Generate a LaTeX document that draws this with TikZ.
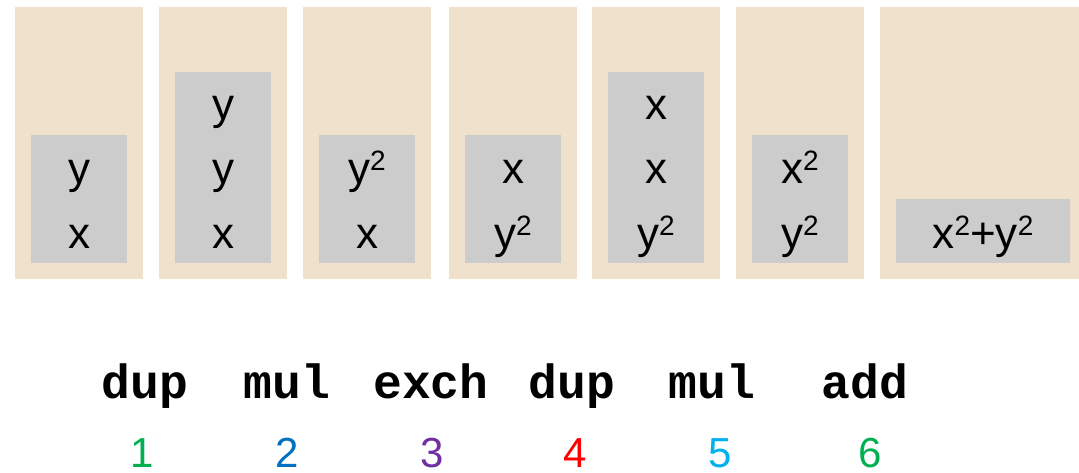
\documentclass[tikz,border=0pt]{standalone}
\usepackage{fontspec}
\setmainfont{Liberation Sans}
\newfontfamily\codefont{Liberation Mono}
\definecolor{beige}{HTML}{F0E1CC}
\definecolor{stackgrey}{HTML}{CCCCCC}
\definecolor{cgreen}{HTML}{00B050}
\definecolor{cblue}{HTML}{0070C0}
\definecolor{cpurple}{HTML}{7030A0}
\definecolor{cred}{HTML}{FF0000}
\definecolor{clblue}{HTML}{00B0F0}
\newcommand{\sqr}{\raisebox{13pt}{\fontsize{28}{28}\selectfont 2}}
\tikzset{
  panel/.style={fill=beige, inner sep=0pt, minimum width=128pt, minimum height=272pt},
  stackbox/.style={fill=stackgrey, inner sep=0pt, minimum width=96pt},
  item/.style={anchor=base, inner sep=0pt, font=\fontsize{44}{44}\selectfont},
  cmd/.style={anchor=base, inner sep=0pt, font=\codefont\bfseries\fontsize{48}{48}\selectfont},
  num/.style={anchor=base, inner sep=0pt, font=\fontsize{42}{42}\selectfont},
}
\begin{document}
\begin{tikzpicture}[x=1pt,y=-1pt]
\useasboundingbox (0,0) rectangle (1079,473);
% panels
\node[panel] (p1) at (79,143) {};
\node[panel] (p2) at (223,143) {};
\node[panel] (p3) at (367,143) {};
\node[panel] (p4) at (513,143) {};
\node[panel] (p5) at (656,143) {};
\node[panel] (p6) at (800,143) {};
\node[panel, minimum width=200pt] (p7) at (980,143) {};
% stacks
\node[stackbox, minimum height=128pt] (s1) at (79,199) {};
\node[stackbox, minimum height=191pt] (s2) at (223,167.5) {};
\node[stackbox, minimum height=128pt] (s3) at (367,199) {};
\node[stackbox, minimum height=128pt] (s4) at (513,199) {};
\node[stackbox, minimum height=191pt] (s5) at (656,167.5) {};
\node[stackbox, minimum height=128pt] (s6) at (800,199) {};
\node[stackbox, minimum height=64pt, minimum width=174pt] (s7) at (983,231) {};
% items
\node[item] (a1) at (79,248) {x};
\node[item] (a2) at (79,184) {y};
\node[item] (b1) at (223,248) {x};
\node[item] (b2) at (223,184) {y};
\node[item] (b3) at (223,120) {y};
\node[item] (c1) at (367,248) {x};
\node[item] (c2) at (367,184) {y\sqr};
\node[item] (d1) at (513,248) {y\sqr};
\node[item] (d2) at (513,184) {x};
\node[item] (e1) at (656,248) {y\sqr};
\node[item] (e2) at (656,184) {x};
\node[item] (e3) at (656,120) {x};
\node[item] (f1) at (800,248) {y\sqr};
\node[item] (f2) at (800,184) {x\sqr};
\node[item] (g1) at (983,248) {x\sqr+y\sqr};
% commands
\node[cmd] (k1) at (145,398) {dup};
\node[cmd] (k2) at (287,398) {mul};
\node[cmd] (k3) at (431,398) {exch};
\node[cmd] (k4) at (572,398) {dup};
\node[cmd] (k5) at (712,398) {mul};
\node[cmd] (k6) at (865,398) {add};
% numbers
\node[num, text=cgreen] (n1) at (142,467) {1};
\node[num, text=cblue] (n2) at (287,467) {2};
\node[num, text=cpurple] (n3) at (432,467) {3};
\node[num, text=cred] (n4) at (575,467) {4};
\node[num, text=clblue] (n5) at (720,467) {5};
\node[num, text=cgreen] (n6) at (870,467) {6};
\end{tikzpicture}
\end{document}
